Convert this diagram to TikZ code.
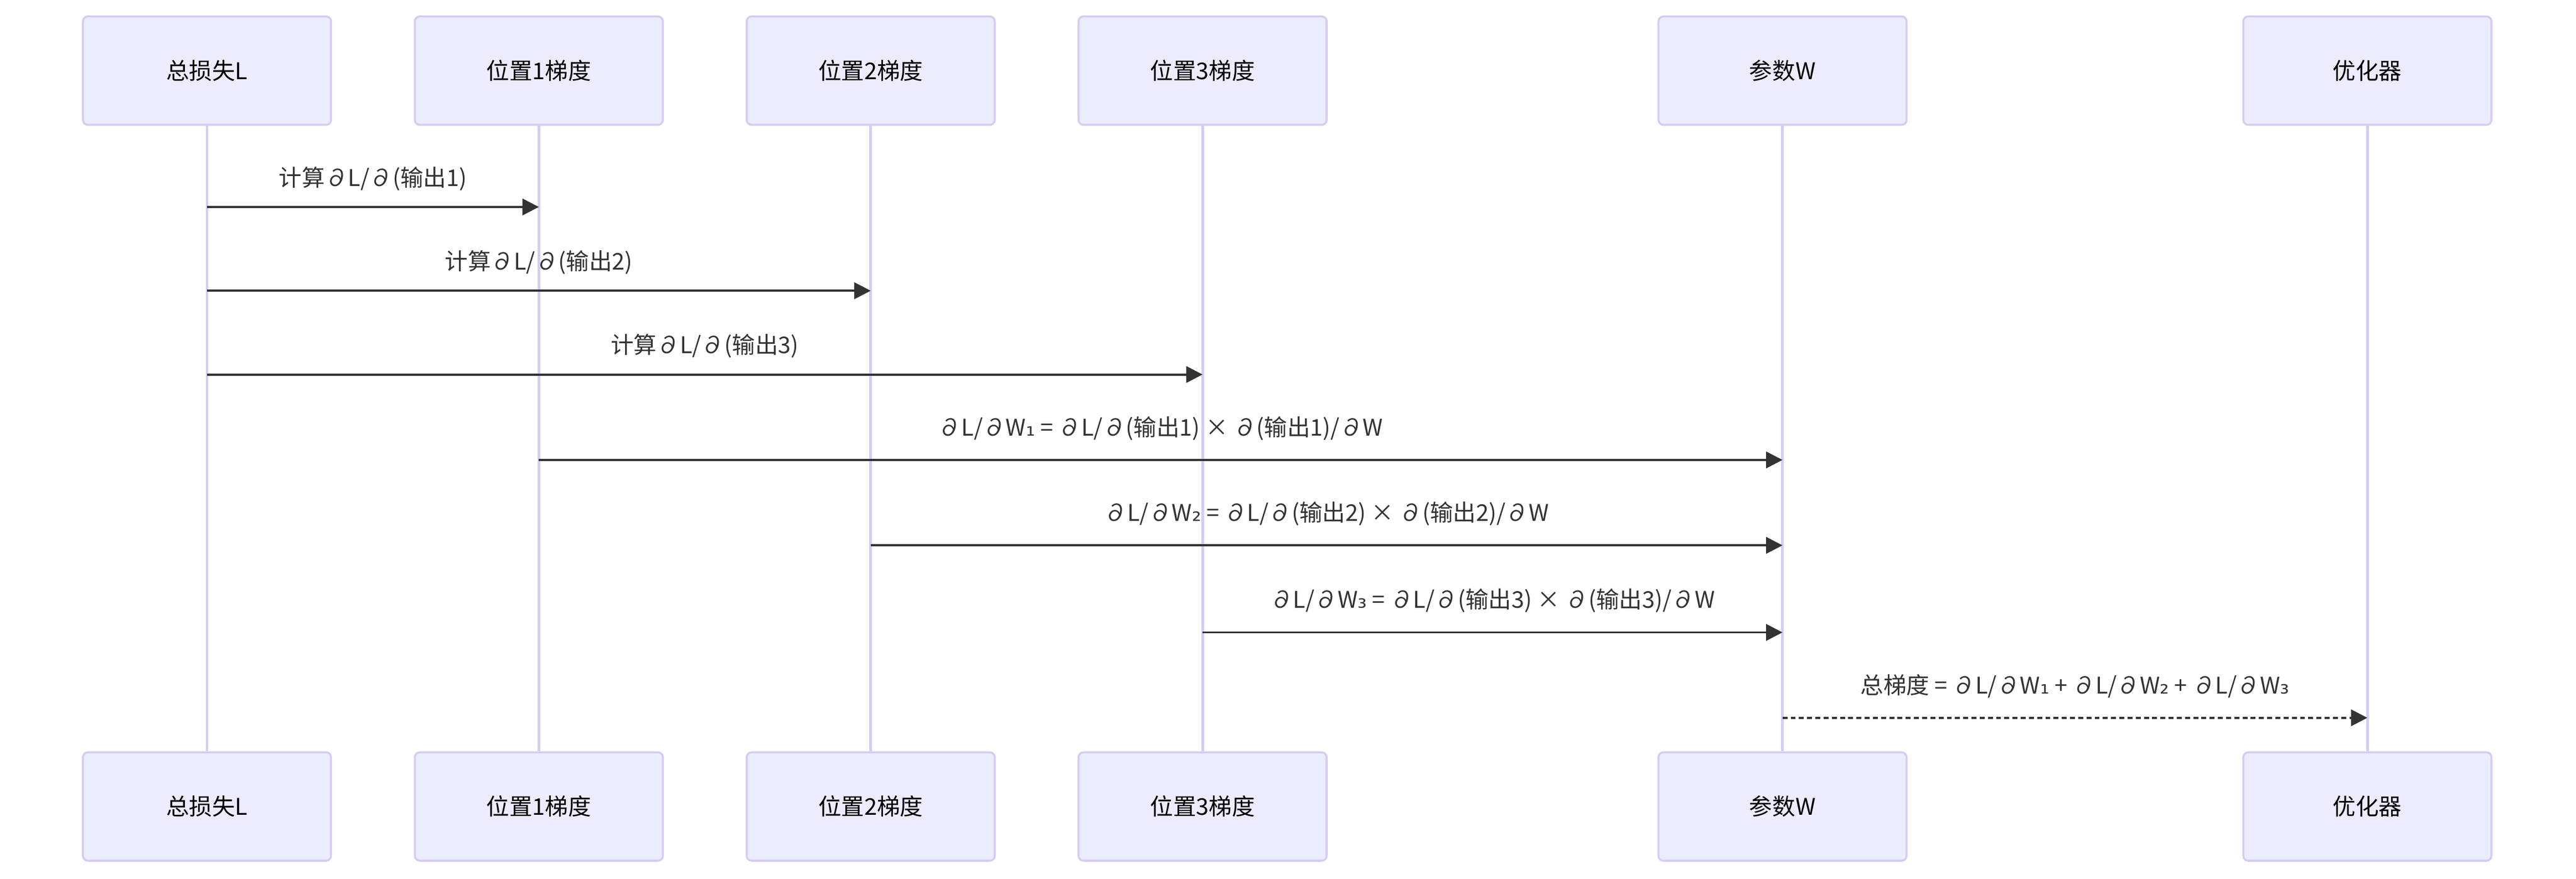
\documentclass[tikz,border=0pt]{standalone}
\usepackage{fontspec}
\setmainfont{Noto Sans CJK SC}
\newfontfamily\djv{DejaVu Sans}
\newcommand{\subd}[1]{{\djv #1}}
\usepackage{tikz}
\usetikzlibrary{arrows.meta}
\definecolor{actfill}{HTML}{ECECFF}
\definecolor{actline}{HTML}{D5CCF4}
\definecolor{msgcol}{HTML}{333333}
\tikzset{
	actor/.style={draw=actline, fill=actfill, line width=1.2pt, rounded corners=3pt,
		minimum width=151pt, minimum height=66pt, font=\fontsize{14}{16}\selectfont},
	life/.style={draw=actline, line width=1.6pt},
	msg/.style={draw=msgcol, line width=1.3pt, -{Triangle[length=10pt,width=10pt]}},
	lbl/.style={font=\fontsize{14}{16}\selectfont, text=msgcol}
}
\begin{document}
\begin{tikzpicture}[x=1pt,y=-1pt]

		\useasboundingbox (0,0) rectangle (1568,535);

		\node[actor] (a1) at ( 126, 43) {总损失L};
		\node[actor] (a2) at ( 328, 43) {位置1梯度};
		\node[actor] (a3) at ( 530, 43) {位置2梯度};
		\node[actor] (a4) at ( 732, 43) {位置3梯度};
		\node[actor] (a5) at (1085, 43) {参数W};
		\node[actor] (a6) at (1441, 43) {优化器};

		\node[actor] (b1) at ( 126,491) {总损失L};
		\node[actor] (b2) at ( 328,491) {位置1梯度};
		\node[actor] (b3) at ( 530,491) {位置2梯度};
		\node[actor] (b4) at ( 732,491) {位置3梯度};
		\node[actor] (b5) at (1085,491) {参数W};
		\node[actor] (b6) at (1441,491) {优化器};

		\foreach \i in {1,...,6} {\draw[life] (a\i) -- (b\i);}

		\coordinate (s1) at ( 126,126); \coordinate (e1) at ( 328,126);
		\coordinate (s2) at ( 126,177); \coordinate (e2) at ( 530,177);
		\coordinate (s3) at ( 126,228); \coordinate (e3) at ( 732,228);
		\coordinate (s4) at ( 328,280); \coordinate (e4) at (1085,280);
		\coordinate (s5) at ( 530,332); \coordinate (e5) at (1085,332);
		\coordinate (s6) at ( 732,385); \coordinate (e6) at (1085,385);
		\coordinate (s7) at (1085,437); \coordinate (e7) at (1441,437);

		\draw[msg] (s1) -- node[lbl, above=6pt] (m1) {计算∂L/∂(输出1)} (e1);
		\draw[msg] (s2) -- node[lbl, above=6pt] (m2) {计算∂L/∂(输出2)} (e2);
		\draw[msg] (s3) -- node[lbl, above=6pt] (m3) {计算∂L/∂(输出3)} (e3);
		\draw[msg] (s4) -- node[lbl, above=8pt] (m4) {∂L/∂W\subd{₁} = ∂L/∂(输出1) × ∂(输出1)/∂W} (e4);
		\draw[msg] (s5) -- node[lbl, above=8pt] (m5) {∂L/∂W\subd{₂} = ∂L/∂(输出2) × ∂(输出2)/∂W} (e5);
		\draw[msg] (s6) -- node[lbl, above=8pt] (m6) {∂L/∂W\subd{₃} = ∂L/∂(输出3) × ∂(输出3)/∂W} (e6);
		\draw[msg, dash pattern=on 3pt off 2pt] (s7) -- node[lbl, above=8pt] (m7) {总梯度 = ∂L/∂W\subd{₁} + ∂L/∂W\subd{₂} + ∂L/∂W\subd{₃}} (e7);

	\end{tikzpicture}
\end{document}
